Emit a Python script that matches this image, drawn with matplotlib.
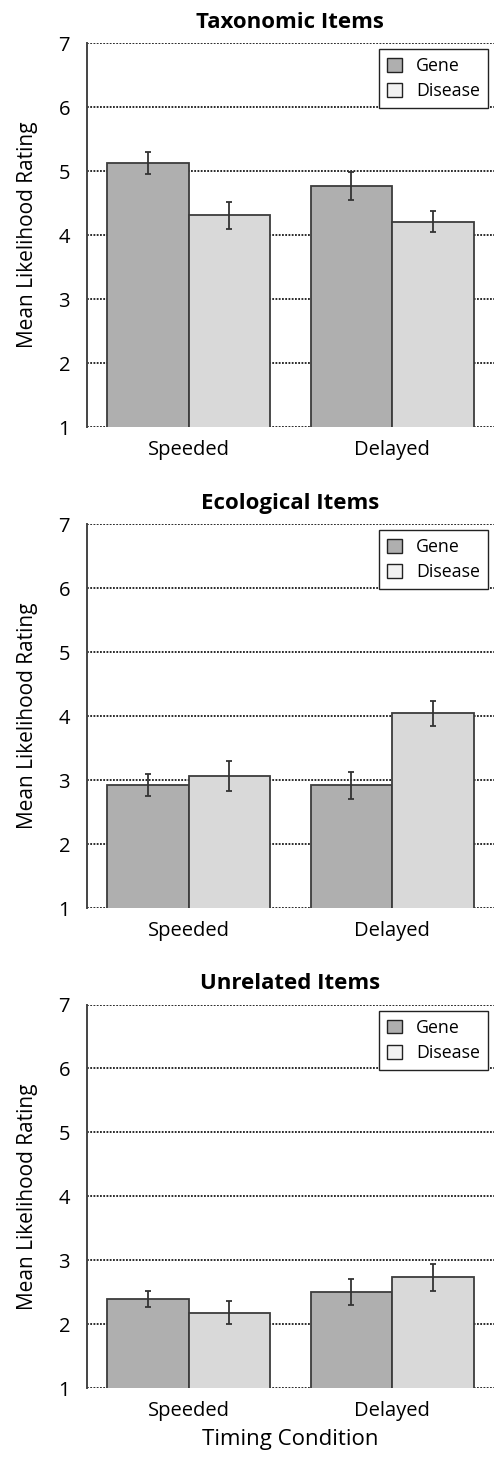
import numpy as np
import matplotlib.pyplot as plt
from matplotlib.patches import Patch

plt.rcParams['font.family'] = ['Open Sans', 'DejaVu Sans']

# Data
conditions = ['Speeded', 'Delayed']
titles = ['Taxonomic Items', 'Ecological Items', 'Unrelated Items']

gene_means = [[5.13, 4.76], [2.92, 2.92], [2.39, 2.50]]
gene_errs = [[0.17, 0.22], [0.17, 0.21], [0.13, 0.20]]
disease_means = [[4.31, 4.21], [3.06, 4.04], [2.18, 2.73]]
disease_errs = [[0.21, 0.17], [0.23, 0.19], [0.18, 0.21]]

gene_color = '#afafaf'
disease_color = '#d9d9d9'
edge_color = '#3c3c3c'

fig = plt.figure(figsize=(4.94, 14.58), dpi=100)

# axes boxes (left, bottom, width, height) in figure fractions
boxes = [
    [0.1755, 0.7071, 0.8245, 0.2634],
    [0.1755, 0.3772, 0.8245, 0.2634],
    [0.1755, 0.0480, 0.8245, 0.2630],
]

x = np.arange(len(conditions))
w = 0.4

for i, box in enumerate(boxes):
    ax = fig.add_axes(box)
    ax.set_xlim(-0.5, 1.5)
    ax.set_ylim(1, 7)
    ax.set_yticks(range(1, 8))

    # dotted gridlines
    for yv in range(1, 8):
        ax.axhline(yv, color='#1a1a1a', lw=1.3, ls=(0, (1, 0.8)), zorder=1)

    ax.bar(x - w / 2, gene_means[i], w, color=gene_color, edgecolor=edge_color,
           linewidth=1.3, zorder=2)
    ax.bar(x + w / 2, disease_means[i], w, color=disease_color, edgecolor=edge_color,
           linewidth=1.3, zorder=2)
    ax.errorbar(x - w / 2, gene_means[i], yerr=gene_errs[i], fmt='none',
                ecolor='#333333', elinewidth=1.3, capsize=2.3, capthick=1.3, zorder=3)
    ax.errorbar(x + w / 2, disease_means[i], yerr=disease_errs[i], fmt='none',
                ecolor='#333333', elinewidth=1.3, capsize=2.3, capthick=1.3, zorder=3)

    for s in ['top', 'right', 'bottom']:
        ax.spines[s].set_visible(False)
    ax.spines['left'].set_color('#444444')
    ax.spines['left'].set_linewidth(1.4)

    ax.set_xticks(x)
    ax.set_xticklabels(conditions, fontsize=14.5)
    ax.tick_params(axis='x', length=0, pad=9)
    ax.tick_params(axis='y', length=0, pad=12, labelsize=14.5)

    ax.set_title(titles[i], fontsize=16, fontweight='bold', pad=11)
    ax.set_ylabel('Mean Likelihood Rating', fontsize=15, labelpad=15)

    handles = [Patch(facecolor=gene_color, edgecolor='#222222', label='Gene'),
               Patch(facecolor='#f2f2f2', edgecolor='#222222', label='Disease')]
    leg = ax.legend(handles=handles, loc='upper right', fontsize=12.8,
                    handlelength=0.8, handleheight=0.8, handletextpad=0.8,
                    borderpad=0.45, labelspacing=0.4, fancybox=False,
                    framealpha=1, edgecolor='#222222', borderaxespad=0.35)
    leg.get_frame().set_linewidth(1.0)

    if i == 2:
        ax.set_xlabel('Timing Condition', fontsize=16, labelpad=6)

fig.savefig('out.png', dpi=100)
